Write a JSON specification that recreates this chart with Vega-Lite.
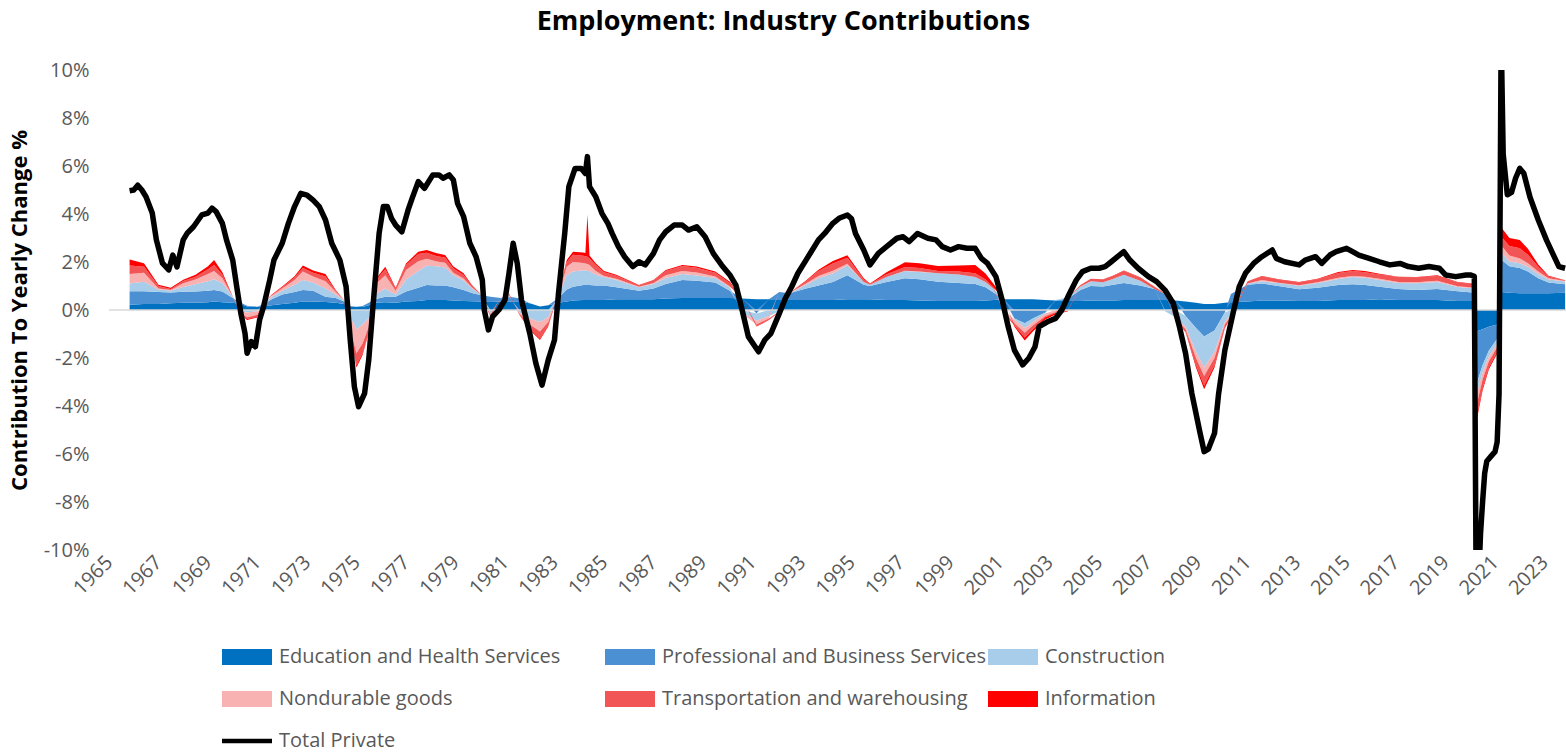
{
"$schema": "https://vega.github.io/schema/vega-lite/v6.json",
"width": 1457, "height": 480,
"autosize": {"type": "none"},
"padding": {"left": 109, "top": 70, "right": 0, "bottom": 204},
"background": "white",
"title": {"text": "Employment: Industry Contributions", "font": "Open Sans", "fontSize": 27, "fontWeight": "bold", "color": "#000000", "anchor": "middle", "frame": "group", "dx": -54, "offset": 24},
"config": {"view": {"stroke": null}, "axis": {"grid": false}},
"datasets": {
"series": [
{"key":"edu","name":"Education and Health Services","rank":1},
{"key":"prof","name":"Professional and Business Services","rank":2},
{"key":"cons","name":"Construction","rank":3},
{"key":"nondur","name":"Nondurable goods","rank":4},
{"key":"trans","name":"Transportation and warehousing","rank":5},
{"key":"info","name":"Information","rank":6}
],
"parts": [
{"date":"1965-11","edu":0.22,"prof":0.56,"cons":0.32,"nondur":0.40,"trans":0.35,"info":0.25},
{"date":"1966-06","edu":0.25,"prof":0.53,"cons":0.40,"nondur":0.37,"trans":0.25,"info":0.15},
{"date":"1967-01","edu":0.25,"prof":0.50,"cons":0.10,"nondur":0.05,"trans":0.10,"info":0.05},
{"date":"1967-07","edu":0.28,"prof":0.45,"cons":0.08,"nondur":0.02,"trans":0.05,"info":0.05},
{"date":"1968-01","edu":0.30,"prof":0.46,"cons":0.20,"nondur":0.15,"trans":0.10,"info":0.05},
{"date":"1968-07","edu":0.30,"prof":0.47,"cons":0.30,"nondur":0.20,"trans":0.12,"info":0.08},
{"date":"1969-01","edu":0.32,"prof":0.48,"cons":0.40,"nondur":0.30,"trans":0.20,"info":0.12},
{"date":"1969-04","edu":0.35,"prof":0.48,"cons":0.45,"nondur":0.35,"trans":0.25,"info":0.20},
{"date":"1969-08","edu":0.32,"prof":0.45,"cons":0.35,"nondur":0.20,"trans":0.15,"info":0.10},
{"date":"1970-01","edu":0.30,"prof":0.20,"cons":0.05,"nondur":0.00,"trans":0.00,"info":0.01},
{"date":"1970-05","edu":0.25,"prof":0.05,"cons":-0.05,"nondur":-0.10,"trans":-0.05,"info":-0.02},
{"date":"1970-08","edu":0.15,"prof":0.03,"cons":-0.10,"nondur":-0.20,"trans":-0.08,"info":-0.04},
{"date":"1971-01","edu":0.12,"prof":0.02,"cons":-0.05,"nondur":-0.15,"trans":-0.08,"info":-0.03},
{"date":"1971-04","edu":0.15,"prof":0.10,"cons":0.05,"nondur":-0.02,"trans":0.00,"info":0.00},
{"date":"1971-08","edu":0.20,"prof":0.25,"cons":0.10,"nondur":0.05,"trans":0.03,"info":0.02},
{"date":"1972-01","edu":0.25,"prof":0.40,"cons":0.15,"nondur":0.10,"trans":0.05,"info":0.03},
{"date":"1972-07","edu":0.30,"prof":0.45,"cons":0.30,"nondur":0.20,"trans":0.10,"info":0.06},
{"date":"1972-11","edu":0.35,"prof":0.48,"cons":0.42,"nondur":0.35,"trans":0.15,"info":0.10},
{"date":"1973-04","edu":0.35,"prof":0.45,"cons":0.35,"nondur":0.25,"trans":0.15,"info":0.10},
{"date":"1973-10","edu":0.33,"prof":0.22,"cons":0.35,"nondur":0.30,"trans":0.20,"info":0.10},
{"date":"1974-03","edu":0.30,"prof":0.20,"cons":0.15,"nondur":0.10,"trans":0.05,"info":0.03},
{"date":"1974-07","edu":0.25,"prof":0.10,"cons":0.05,"nondur":0.02,"trans":0.00,"info":0.00},
{"date":"1974-10","edu":0.15,"prof":0.02,"cons":-0.30,"nondur":-0.50,"trans":-0.20,"info":-0.05},
{"date":"1975-01","edu":0.12,"prof":0.02,"cons":-0.80,"nondur":-1.00,"trans":-0.50,"info":-0.10},
{"date":"1975-04","edu":0.12,"prof":0.05,"cons":-0.60,"nondur":-0.80,"trans":-0.40,"info":-0.08},
{"date":"1975-07","edu":0.20,"prof":0.10,"cons":-0.35,"nondur":-0.35,"trans":-0.20,"info":-0.05},
{"date":"1975-10","edu":0.30,"prof":0.15,"cons":0.20,"nondur":0.40,"trans":0.15,"info":0.05},
{"date":"1976-03","edu":0.32,"prof":0.23,"cons":0.35,"nondur":0.55,"trans":0.25,"info":0.10},
{"date":"1976-08","edu":0.30,"prof":0.25,"cons":0.10,"nondur":0.15,"trans":0.10,"info":0.03},
{"date":"1977-01","edu":0.35,"prof":0.42,"cons":0.50,"nondur":0.40,"trans":0.20,"info":0.07},
{"date":"1977-07","edu":0.38,"prof":0.55,"cons":0.70,"nondur":0.40,"trans":0.30,"info":0.10},
{"date":"1977-11","edu":0.42,"prof":0.62,"cons":0.80,"nondur":0.30,"trans":0.25,"info":0.11},
{"date":"1978-04","edu":0.42,"prof":0.60,"cons":0.80,"nondur":0.20,"trans":0.22,"info":0.12},
{"date":"1978-08","edu":0.42,"prof":0.60,"cons":0.75,"nondur":0.20,"trans":0.22,"info":0.10},
{"date":"1978-12","edu":0.40,"prof":0.55,"cons":0.50,"nondur":0.10,"trans":0.18,"info":0.08},
{"date":"1979-05","edu":0.38,"prof":0.45,"cons":0.40,"nondur":0.08,"trans":0.15,"info":0.07},
{"date":"1979-09","edu":0.36,"prof":0.35,"cons":0.20,"nondur":0.03,"trans":0.08,"info":0.02},
{"date":"1980-01","edu":0.35,"prof":0.27,"cons":0.05,"nondur":0.00,"trans":0.02,"info":0.00},
{"date":"1980-06","edu":0.33,"prof":0.22,"cons":-0.12,"nondur":-0.08,"trans":-0.06,"info":-0.02},
{"date":"1980-11","edu":0.35,"prof":0.15,"cons":-0.02,"nondur":0.00,"trans":0.00,"info":0.00},
{"date":"1981-03","edu":0.35,"prof":0.20,"cons":0.05,"nondur":0.03,"trans":0.04,"info":0.02},
{"date":"1981-08","edu":0.33,"prof":0.16,"cons":-0.10,"nondur":-0.05,"trans":-0.03,"info":-0.02},
{"date":"1982-01","edu":0.28,"prof":0.00,"cons":-0.35,"nondur":-0.25,"trans":-0.18,"info":-0.05},
{"date":"1982-06","edu":0.15,"prof":0.00,"cons":-0.50,"nondur":-0.40,"trans":-0.30,"info":-0.05},
{"date":"1982-10","edu":0.20,"prof":0.00,"cons":-0.30,"nondur":-0.20,"trans":-0.15,"info":-0.04},
{"date":"1983-03","edu":0.30,"prof":0.20,"cons":0.10,"nondur":0.05,"trans":0.03,"info":0.01},
{"date":"1983-07","edu":0.35,"prof":0.50,"cons":0.60,"nondur":0.35,"trans":0.20,"info":0.08},
{"date":"1983-10","edu":0.40,"prof":0.57,"cons":0.63,"nondur":0.40,"trans":0.30,"info":0.13},
{"date":"1984-03","edu":0.42,"prof":0.62,"cons":0.62,"nondur":0.30,"trans":0.30,"info":0.14},
{"date":"1984-04","edu":0.42,"prof":0.62,"cons":0.61,"nondur":0.29,"trans":0.30,"info":0.14},
{"date":"1984-05","edu":0.42,"prof":0.62,"cons":0.60,"nondur":0.28,"trans":0.30,"info":1.75},
{"date":"1984-06","edu":0.42,"prof":0.62,"cons":0.58,"nondur":0.25,"trans":0.28,"info":0.12},
{"date":"1984-09","edu":0.42,"prof":0.60,"cons":0.45,"nondur":0.15,"trans":0.25,"info":0.08},
{"date":"1985-01","edu":0.42,"prof":0.60,"cons":0.35,"nondur":0.05,"trans":0.15,"info":0.05},
{"date":"1985-07","edu":0.45,"prof":0.50,"cons":0.30,"nondur":0.05,"trans":0.13,"info":0.04},
{"date":"1986-06","edu":0.45,"prof":0.35,"cons":0.15,"nondur":0.02,"trans":0.05,"info":0.02},
{"date":"1987-01","edu":0.45,"prof":0.45,"cons":0.18,"nondur":0.05,"trans":0.10,"info":0.02},
{"date":"1987-07","edu":0.48,"prof":0.60,"cons":0.25,"nondur":0.12,"trans":0.17,"info":0.05},
{"date":"1988-03","edu":0.50,"prof":0.75,"cons":0.25,"nondur":0.13,"trans":0.20,"info":0.05},
{"date":"1988-10","edu":0.50,"prof":0.72,"cons":0.22,"nondur":0.12,"trans":0.20,"info":0.05},
{"date":"1989-07","edu":0.50,"prof":0.65,"cons":0.18,"nondur":0.07,"trans":0.15,"info":0.05},
{"date":"1990-02","edu":0.50,"prof":0.30,"cons":0.15,"nondur":0.03,"trans":0.15,"info":0.05},
{"date":"1990-08","edu":0.48,"prof":0.00,"cons":-0.10,"nondur":-0.05,"trans":0.00,"info":0.00},
{"date":"1991-03","edu":0.45,"prof":-0.15,"cons":-0.30,"nondur":-0.15,"trans":-0.07,"info":-0.02},
{"date":"1991-09","edu":0.45,"prof":0.00,"cons":-0.25,"nondur":-0.10,"trans":-0.05,"info":-0.02},
{"date":"1992-02","edu":0.45,"prof":0.30,"cons":-0.05,"nondur":0.00,"trans":-0.02,"info":-0.01},
{"date":"1992-07","edu":0.42,"prof":0.28,"cons":0.00,"nondur":0.02,"trans":0.00,"info":0.00},
{"date":"1993-03","edu":0.42,"prof":0.48,"cons":0.15,"nondur":0.05,"trans":0.10,"info":0.03},
{"date":"1993-09","edu":0.42,"prof":0.60,"cons":0.30,"nondur":0.10,"trans":0.20,"info":0.06},
{"date":"1994-04","edu":0.42,"prof":0.75,"cons":0.35,"nondur":0.12,"trans":0.30,"info":0.10},
{"date":"1994-11","edu":0.45,"prof":1.00,"cons":0.40,"nondur":0.08,"trans":0.25,"info":0.10},
{"date":"1995-07","edu":0.45,"prof":0.60,"cons":0.12,"nondur":0.00,"trans":0.10,"info":0.05},
{"date":"1995-10","edu":0.45,"prof":0.55,"cons":0.05,"nondur":0.00,"trans":0.03,"info":0.02},
{"date":"1996-06","edu":0.42,"prof":0.75,"cons":0.20,"nondur":0.00,"trans":0.12,"info":0.08},
{"date":"1997-03","edu":0.42,"prof":0.90,"cons":0.30,"nondur":0.02,"trans":0.15,"info":0.20},
{"date":"1997-10","edu":0.40,"prof":0.88,"cons":0.30,"nondur":0.02,"trans":0.15,"info":0.20},
{"date":"1998-07","edu":0.38,"prof":0.80,"cons":0.35,"nondur":0.00,"trans":0.10,"info":0.20},
{"date":"1999-05","edu":0.38,"prof":0.75,"cons":0.35,"nondur":0.00,"trans":0.12,"info":0.25},
{"date":"2000-01","edu":0.38,"prof":0.70,"cons":0.30,"nondur":0.00,"trans":0.15,"info":0.35},
{"date":"2000-06","edu":0.40,"prof":0.55,"cons":0.22,"nondur":0.00,"trans":0.10,"info":0.25},
{"date":"2000-10","edu":0.42,"prof":0.30,"cons":0.15,"nondur":0.00,"trans":0.05,"info":0.15},
{"date":"2001-03","edu":0.45,"prof":0.00,"cons":0.02,"nondur":-0.10,"trans":-0.05,"info":0.02},
{"date":"2001-08","edu":0.45,"prof":-0.35,"cons":-0.05,"nondur":-0.15,"trans":-0.10,"info":-0.05},
{"date":"2002-01","edu":0.45,"prof":-0.55,"cons":-0.20,"nondur":-0.20,"trans":-0.20,"info":-0.12},
{"date":"2002-05","edu":0.45,"prof":-0.35,"cons":-0.15,"nondur":-0.15,"trans":-0.15,"info":-0.10},
{"date":"2002-11","edu":0.42,"prof":-0.10,"cons":-0.05,"nondur":-0.10,"trans":-0.05,"info":-0.10},
{"date":"2003-04","edu":0.40,"prof":0.00,"cons":0.02,"nondur":-0.08,"trans":-0.05,"info":-0.06},
{"date":"2003-10","edu":0.38,"prof":0.10,"cons":0.05,"nondur":-0.03,"trans":0.00,"info":-0.02},
{"date":"2004-04","edu":0.38,"prof":0.45,"cons":0.15,"nondur":0.00,"trans":0.06,"info":0.00},
{"date":"2004-09","edu":0.40,"prof":0.60,"cons":0.20,"nondur":0.00,"trans":0.10,"info":0.00},
{"date":"2005-03","edu":0.40,"prof":0.58,"cons":0.18,"nondur":0.00,"trans":0.12,"info":0.00},
{"date":"2005-08","edu":0.40,"prof":0.65,"cons":0.25,"nondur":0.00,"trans":0.12,"info":0.02},
{"date":"2006-01","edu":0.42,"prof":0.70,"cons":0.35,"nondur":0.00,"trans":0.15,"info":0.03},
{"date":"2006-09","edu":0.42,"prof":0.60,"cons":0.20,"nondur":0.00,"trans":0.12,"info":0.02},
{"date":"2007-04","edu":0.42,"prof":0.45,"cons":0.00,"nondur":0.00,"trans":0.08,"info":0.02},
{"date":"2007-09","edu":0.42,"prof":0.25,"cons":-0.05,"nondur":0.00,"trans":0.03,"info":0.00},
{"date":"2008-02","edu":0.40,"prof":0.00,"cons":-0.30,"nondur":-0.05,"trans":-0.05,"info":-0.02},
{"date":"2008-07","edu":0.35,"prof":-0.25,"cons":-0.45,"nondur":-0.10,"trans":-0.10,"info":-0.03},
{"date":"2008-12","edu":0.30,"prof":-0.75,"cons":-1.00,"nondur":-0.25,"trans":-0.30,"info":-0.10},
{"date":"2009-04","edu":0.25,"prof":-1.10,"cons":-1.30,"nondur":-0.35,"trans":-0.40,"info":-0.15},
{"date":"2009-09","edu":0.25,"prof":-0.85,"cons":-0.90,"nondur":-0.25,"trans":-0.30,"info":-0.10},
{"date":"2010-02","edu":0.30,"prof":-0.10,"cons":-0.40,"nondur":-0.10,"trans":-0.10,"info":-0.05},
{"date":"2010-05","edu":0.32,"prof":0.35,"cons":-0.20,"nondur":-0.05,"trans":-0.03,"info":-0.03},
{"date":"2011-01","edu":0.35,"prof":0.70,"cons":0.05,"nondur":0.00,"trans":0.10,"info":0.00},
{"date":"2011-08","edu":0.40,"prof":0.70,"cons":0.10,"nondur":0.05,"trans":0.15,"info":0.02},
{"date":"2012-04","edu":0.40,"prof":0.60,"cons":0.12,"nondur":0.02,"trans":0.12,"info":0.02},
{"date":"2013-02","edu":0.38,"prof":0.48,"cons":0.15,"nondur":0.02,"trans":0.12,"info":0.02},
{"date":"2013-11","edu":0.38,"prof":0.55,"cons":0.20,"nondur":0.03,"trans":0.12,"info":0.02},
{"date":"2014-09","edu":0.42,"prof":0.62,"cons":0.25,"nondur":0.05,"trans":0.20,"info":0.04},
{"date":"2015-04","edu":0.42,"prof":0.65,"cons":0.30,"nondur":0.05,"trans":0.20,"info":0.05},
{"date":"2015-10","edu":0.42,"prof":0.62,"cons":0.30,"nondur":0.05,"trans":0.18,"info":0.05},
{"date":"2016-05","edu":0.45,"prof":0.52,"cons":0.28,"nondur":0.05,"trans":0.18,"info":0.03},
{"date":"2017-02","edu":0.42,"prof":0.45,"cons":0.25,"nondur":0.05,"trans":0.20,"info":0.02},
{"date":"2017-11","edu":0.42,"prof":0.41,"cons":0.28,"nondur":0.05,"trans":0.20,"info":0.02},
{"date":"2018-09","edu":0.42,"prof":0.45,"cons":0.30,"nondur":0.05,"trans":0.20,"info":0.03},
{"date":"2019-07","edu":0.38,"prof":0.40,"cons":0.18,"nondur":0.03,"trans":0.16,"info":0.02},
{"date":"2020-02","edu":0.38,"prof":0.35,"cons":0.18,"nondur":0.03,"trans":0.14,"info":0.02},
{"date":"2020-03","edu":0.38,"prof":0.33,"cons":0.15,"nondur":0.03,"trans":0.12,"info":0.02},
{"date":"2020-04","edu":-0.90,"prof":-2.20,"cons":-0.45,"nondur":-0.45,"trans":-0.50,"info":-0.15},
{"date":"2020-07","edu":-0.80,"prof":-1.50,"cons":-0.30,"nondur":-0.30,"trans":-0.35,"info":-0.10},
{"date":"2020-10","edu":-0.70,"prof":-1.00,"cons":-0.25,"nondur":-0.20,"trans":-0.25,"info":-0.08},
{"date":"2021-02","edu":-0.60,"prof":-0.60,"cons":-0.20,"nondur":-0.15,"trans":-0.20,"info":-0.07},
{"date":"2021-03","edu":-0.40,"prof":-0.30,"cons":-0.10,"nondur":-0.10,"trans":-0.10,"info":-0.05},
{"date":"2021-04","edu":0.75,"prof":1.35,"cons":0.30,"nondur":0.30,"trans":0.35,"info":0.40},
{"date":"2021-08","edu":0.72,"prof":1.10,"cons":0.20,"nondur":0.25,"trans":0.40,"info":0.33},
{"date":"2022-01","edu":0.70,"prof":1.05,"cons":0.20,"nondur":0.20,"trans":0.42,"info":0.35},
{"date":"2022-05","edu":0.70,"prof":0.90,"cons":0.20,"nondur":0.15,"trans":0.35,"info":0.25},
{"date":"2022-10","edu":0.70,"prof":0.62,"cons":0.18,"nondur":0.10,"trans":0.20,"info":0.10},
{"date":"2023-03","edu":0.70,"prof":0.45,"cons":0.12,"nondur":0.05,"trans":0.08,"info":0.03},
{"date":"2023-11","edu":0.72,"prof":0.35,"cons":0.12,"nondur":0.02,"trans":0.02,"info":0.01}
],
"total": [
{"date":"1965-11","val":4.97},{"date":"1966-01","val":5.0},{"date":"1966-03","val":5.2},{"date":"1966-05","val":5.0},{"date":"1966-07","val":4.72},{"date":"1966-10","val":4.04},{"date":"1966-12","val":2.92},
{"date":"1967-03","val":1.95},{"date":"1967-06","val":1.67},{"date":"1967-08","val":2.29},{"date":"1967-10","val":1.8},
{"date":"1968-01","val":2.92},{"date":"1968-03","val":3.2},{"date":"1968-06","val":3.47},{"date":"1968-10","val":3.96},
{"date":"1969-01","val":4.04},{"date":"1969-03","val":4.24},{"date":"1969-05","val":4.1},{"date":"1969-08","val":3.61},{"date":"1969-10","val":2.92},
{"date":"1970-01","val":2.08},{"date":"1970-03","val":0.97},{"date":"1970-05","val":-0.14},{"date":"1970-07","val":-0.97},{"date":"1970-08","val":-1.8},{"date":"1970-10","val":-1.32},{"date":"1970-12","val":-1.53},
{"date":"1971-02","val":-0.42},{"date":"1971-04","val":0.14},{"date":"1971-07","val":1.25},{"date":"1971-09","val":2.08},
{"date":"1972-01","val":2.78},{"date":"1972-04","val":3.61},{"date":"1972-07","val":4.31},{"date":"1972-10","val":4.86},
{"date":"1973-01","val":4.79},{"date":"1973-04","val":4.58},{"date":"1973-07","val":4.31},{"date":"1973-10","val":3.75},
{"date":"1974-01","val":2.78},{"date":"1974-05","val":2.08},{"date":"1974-08","val":0.97},{"date":"1974-10","val":-1.25},{"date":"1974-12","val":-3.2},
{"date":"1975-02","val":-4.03},{"date":"1975-05","val":-3.47},{"date":"1975-07","val":-2.08},{"date":"1975-09","val":0.14},{"date":"1975-12","val":3.19},
{"date":"1976-02","val":4.31},{"date":"1976-04","val":4.31},{"date":"1976-06","val":3.82},{"date":"1976-08","val":3.54},{"date":"1976-11","val":3.26},
{"date":"1977-02","val":4.17},{"date":"1977-04","val":4.65},{"date":"1977-07","val":5.35},{"date":"1977-10","val":5.07},
{"date":"1978-02","val":5.63},{"date":"1978-05","val":5.63},{"date":"1978-07","val":5.49},{"date":"1978-10","val":5.63},{"date":"1978-12","val":5.42},
{"date":"1979-02","val":4.44},{"date":"1979-05","val":3.89},{"date":"1979-08","val":2.78},{"date":"1979-11","val":2.22},
{"date":"1980-02","val":1.25},{"date":"1980-03","val":0.0},{"date":"1980-05","val":-0.83},{"date":"1980-07","val":-0.28},{"date":"1980-10","val":0.0},
{"date":"1981-01","val":0.42},{"date":"1981-03","val":1.53},{"date":"1981-05","val":2.78},{"date":"1981-07","val":1.94},{"date":"1981-09","val":0.42},
{"date":"1982-01","val":-0.97},{"date":"1982-04","val":-2.22},{"date":"1982-07","val":-3.13},{"date":"1982-10","val":-2.08},
{"date":"1983-01","val":-1.25},{"date":"1983-03","val":0.69},{"date":"1983-06","val":3.19},{"date":"1983-08","val":5.14},{"date":"1983-11","val":5.9},
{"date":"1984-02","val":5.9},{"date":"1984-04","val":5.69},{"date":"1984-05","val":6.39},{"date":"1984-06","val":5.14},{"date":"1984-09","val":4.72},{"date":"1984-12","val":4.03},
{"date":"1985-03","val":3.6},{"date":"1985-05","val":3.19},{"date":"1985-08","val":2.64},{"date":"1985-11","val":2.22},
{"date":"1986-03","val":1.81},{"date":"1986-06","val":2.01},{"date":"1986-09","val":1.88},
{"date":"1987-01","val":2.36},{"date":"1987-04","val":2.92},{"date":"1987-07","val":3.26},{"date":"1987-11","val":3.54},
{"date":"1988-03","val":3.54},{"date":"1988-06","val":3.33},{"date":"1988-10","val":3.47},
{"date":"1989-02","val":3.05},{"date":"1989-06","val":2.36},{"date":"1989-10","val":1.88},
{"date":"1990-02","val":1.46},{"date":"1990-05","val":1.04},{"date":"1990-08","val":0.0},{"date":"1990-11","val":-1.11},
{"date":"1991-04","val":-1.74},{"date":"1991-07","val":-1.25},{"date":"1991-10","val":-0.97},
{"date":"1992-02","val":-0.14},{"date":"1992-05","val":0.49},{"date":"1992-08","val":0.97},{"date":"1992-11","val":1.53},
{"date":"1993-03","val":2.08},{"date":"1993-06","val":2.5},{"date":"1993-09","val":2.92},{"date":"1993-12","val":3.19},
{"date":"1994-04","val":3.61},{"date":"1994-07","val":3.82},{"date":"1994-11","val":3.96},
{"date":"1995-01","val":3.8},{"date":"1995-03","val":3.19},{"date":"1995-07","val":2.5},{"date":"1995-10","val":1.88},
{"date":"1996-02","val":2.36},{"date":"1996-06","val":2.64},{"date":"1996-11","val":2.99},
{"date":"1997-02","val":3.05},{"date":"1997-05","val":2.85},{"date":"1997-09","val":3.19},
{"date":"1998-02","val":2.99},{"date":"1998-06","val":2.92},{"date":"1998-09","val":2.64},
{"date":"1999-01","val":2.5},{"date":"1999-05","val":2.64},{"date":"1999-09","val":2.57},
{"date":"2000-01","val":2.57},{"date":"2000-04","val":2.15},{"date":"2000-07","val":1.94},{"date":"2000-11","val":1.39},
{"date":"2001-02","val":0.42},{"date":"2001-05","val":-0.69},{"date":"2001-08","val":-1.67},{"date":"2001-12","val":-2.29},
{"date":"2002-03","val":-2.01},{"date":"2002-06","val":-1.53},{"date":"2002-08","val":-0.69},{"date":"2002-12","val":-0.49},
{"date":"2003-04","val":-0.35},{"date":"2003-07","val":0.0},{"date":"2003-10","val":0.56},
{"date":"2004-02","val":1.25},{"date":"2004-05","val":1.6},{"date":"2004-09","val":1.74},
{"date":"2005-01","val":1.74},{"date":"2005-04","val":1.81},{"date":"2005-07","val":2.01},{"date":"2005-10","val":2.22},
{"date":"2006-01","val":2.43},{"date":"2006-04","val":2.08},{"date":"2006-08","val":1.74},
{"date":"2007-01","val":1.39},{"date":"2007-05","val":1.18},{"date":"2007-09","val":0.83},
{"date":"2008-01","val":0.28},{"date":"2008-04","val":-0.69},{"date":"2008-07","val":-1.81},{"date":"2008-10","val":-3.47},
{"date":"2009-02","val":-5.14},{"date":"2009-04","val":-5.9},{"date":"2009-06","val":-5.8},{"date":"2009-09","val":-5.14},{"date":"2009-11","val":-3.47},
{"date":"2010-02","val":-1.67},{"date":"2010-06","val":-0.14},{"date":"2010-09","val":0.97},{"date":"2010-12","val":1.53},
{"date":"2011-04","val":1.94},{"date":"2011-08","val":2.22},
{"date":"2012-01","val":2.5},{"date":"2012-03","val":2.15},{"date":"2012-07","val":2.01},
{"date":"2013-02","val":1.88},{"date":"2013-05","val":2.08},{"date":"2013-10","val":2.22},
{"date":"2014-01","val":1.94},{"date":"2014-05","val":2.29},{"date":"2014-08","val":2.43},
{"date":"2015-01","val":2.57},{"date":"2015-04","val":2.43},{"date":"2015-07","val":2.29},{"date":"2015-12","val":2.15},
{"date":"2016-05","val":2.01},{"date":"2016-10","val":1.88},
{"date":"2017-03","val":1.94},{"date":"2017-07","val":1.81},{"date":"2017-12","val":1.74},
{"date":"2018-05","val":1.81},{"date":"2018-10","val":1.74},
{"date":"2019-01","val":1.46},{"date":"2019-06","val":1.39},{"date":"2019-11","val":1.46},
{"date":"2020-01","val":1.46},{"date":"2020-03","val":1.4},{"date":"2020-04","val":-13.5},{"date":"2020-05","val":-11.5},{"date":"2020-06","val":-9.3},{"date":"2020-07","val":-8.0},{"date":"2020-08","val":-6.8},{"date":"2020-09","val":-6.3},{"date":"2020-11","val":-6.1},
{"date":"2021-01","val":-5.9},{"date":"2021-02","val":-5.5},{"date":"2021-03","val":-3.5},{"date":"2021-04","val":11.5},{"date":"2021-05","val":6.5},{"date":"2021-07","val":4.8},{"date":"2021-09","val":4.9},{"date":"2021-11","val":5.5},
{"date":"2022-01","val":5.9},{"date":"2022-03","val":5.7},{"date":"2022-06","val":4.7},{"date":"2022-10","val":3.75},
{"date":"2023-02","val":2.9},{"date":"2023-05","val":2.36},{"date":"2023-08","val":1.81},{"date":"2023-11","val":1.74}
]
},
"layer": [
{
"data": {"name": "parts"},
"transform": [
{"fold": ["edu","prof","cons","nondur","trans","info"], "as": ["key","val"]},
{"lookup": "key", "from": {"data": {"name": "series"}, "key": "key", "fields": ["name","rank"]}}
],
"mark": {"type": "area", "clip": true},
"encoding": {
"x": {"field": "date", "type": "temporal", "title": null,
 "scale": {"domain": [{"year":1965,"month":1,"date":1},{"year":2023,"month":11,"date":14}]},
 "axis": {"values": [{"year":1965},{"year":1967},{"year":1969},{"year":1971},{"year":1973},{"year":1975},{"year":1977},{"year":1979},{"year":1981},{"year":1983},{"year":1985},{"year":1987},{"year":1989},{"year":1991},{"year":1993},{"year":1995},{"year":1997},{"year":1999},{"year":2001},{"year":2003},{"year":2005},{"year":2007},{"year":2009},{"year":2011},{"year":2013},{"year":2015},{"year":2017},{"year":2019},{"year":2021},{"year":2023}],
  "format": "%Y", "labelAngle": -45, "labelAlign": "right", "labelBaseline": "middle", "ticks": false, "domain": false, "grid": false, "labelPadding": 9, "labelFont": "Open Sans", "labelFontSize": 20, "labelColor": "#595959", "labelOverlap": false, "labelBound": false, "labelFlush": false}},
"y": {"field": "val", "type": "quantitative", "stack": "zero", "title": "Contribution To Yearly Change %",
 "scale": {"domain": [-10, 10], "nice": false},
 "axis": {"values": [-10,-8,-6,-4,-2,0,2,4,6,8,10], "labelExpr": "datum.value + '%'", "domain": false, "ticks": false, "grid": false, "labelPadding": 20, "labelFont": "Open Sans", "labelFontSize": 20, "labelColor": "#595959", "titleFont": "Open Sans", "titleFontSize": 22, "titleFontWeight": "bold", "titleColor": "#000000", "titlePadding": 12}},
"color": {"field": "name", "type": "nominal",
 "scale": {"domain": ["Education and Health Services","Professional and Business Services","Construction","Nondurable goods","Transportation and warehousing","Information","Total Private"], "range": ["#0070C0","#4A90D2","#A7CDEB","#F8B2B2","#F25555","#FF0000","#000000"]},
 "legend": {"title": null, "orient": "none", "legendX": 113, "legendY": 562, "direction": "horizontal", "columns": 3, "gridAlign": "all", "columnPadding": 1, "rowPadding": 7, "symbolSize": 2500, "labelFont": "Open Sans", "labelFontSize": 20, "labelColor": "#595959", "labelOffset": 7, "labelLimit": 500,
  "encode": {"symbols": {"update": {"shape": {"signal": "datum.value === 'Total Private' ? 'M-1,-0.09H1V0.09H-1Z' : 'M-1,-0.32H1V0.32H-1Z'"}, "fill": {"scale": "color", "field": "value"}, "stroke": {"value": "transparent"}, "strokeWidth": {"value": 0}, "opacity": {"value": 1}, "fillOpacity": {"value": 1}}}}}},
"order": {"field": "rank", "type": "quantitative", "sort": "ascending"}
}
},
{
"data": {"values": [{}]},
"mark": {"type": "rule", "color": "#D9D9D9", "strokeWidth": 1.5},
"encoding": {"y": {"datum": 0, "type": "quantitative"}}
},
{
"data": {"name": "total"},
"mark": {"type": "line", "clip": true, "strokeWidth": 5.5, "strokeJoin": "round"},
"encoding": {
"x": {"field": "date", "type": "temporal", "title": null},
"y": {"field": "val", "type": "quantitative", "title": "Contribution To Yearly Change %"},
"color": {"datum": "Total Private", "type": "nominal"}
}
}
]
}
